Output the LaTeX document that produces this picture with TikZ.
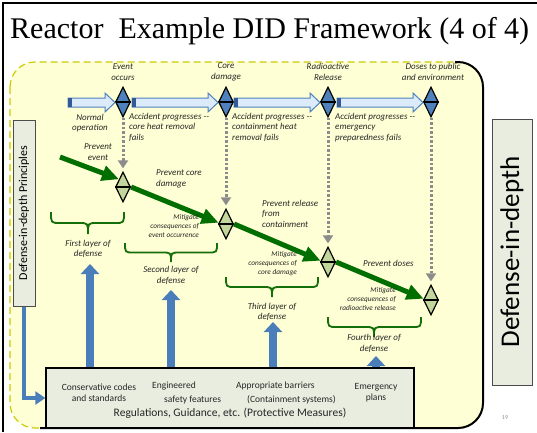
\documentclass[tikz,border=0pt]{standalone}
\usepackage{fontspec}
\newfontfamily\carl{Carlito}
\newfontfamily\titlefont{Liberation Serif}
\usetikzlibrary{arrows.meta,shapes.geometric,calc}
\definecolor{bgyellow}{RGB}{255,255,213}
\definecolor{dashyel}{RGB}{204,204,0}
\definecolor{boxgray}{RGB}{233,237,224}
\definecolor{tlfill}{RGB}{220,235,250}
\definecolor{tlblue}{RGB}{79,129,189}
\definecolor{darkbar}{RGB}{50,90,150}
\definecolor{arrblue}{RGB}{74,126,187}
\definecolor{gfill}{RGB}{195,214,155}
\definecolor{garrow}{RGB}{0,110,0}
\definecolor{brgreen}{RGB}{20,110,10}
\definecolor{dotgray}{RGB}{140,140,140}
\newcommand\tlarrow[2]{%
  \draw[tlblue, fill=tlfill, line width=1] (#1,98) -- (#2-10,98) -- (#2-10,93) -- (#2,102.5) -- (#2-10,112) -- (#2-10,107) -- (#1,107) -- cycle;
  \fill[darkbar] (#1,98) rectangle (#1+4,107);}
\newcommand\mybrace[5]{% x1 x2 xm ytop ybot
  \draw[brc] (#1,#4) .. controls (#1,{(#4+#5)/2}) .. ({#1+9},{(#4+#5)/2}) -- ({#3-9},{(#4+#5)/2}) .. controls (#3,{(#4+#5)/2}) .. (#3,#5)
     .. controls (#3,{(#4+#5)/2}) .. ({#3+9},{(#4+#5)/2}) -- ({#2-9},{(#4+#5)/2}) .. controls (#2,{(#4+#5)/2}) .. (#2,#4);}
\tikzset{
 lbl/.style={font=\carl\itshape\fontsize{9}{10.5}\selectfont, inner sep=0, text=black!85},
 mit/.style={font=\carl\itshape\fontsize{7.3}{9}\selectfont, inner sep=0, align=right, anchor=north east, text=black!85},
 tdia/.style={diamond, draw=black, line width=1.2, fill=tlblue, minimum width=15, minimum height=30, inner sep=0},
 gdia/.style={diamond, draw=black, line width=1.2, fill=gfill, minimum width=15, minimum height=30, inner sep=0},
 dotl/.style={dotgray, line width=3, dash pattern=on 2.5 off 2, -{Triangle[width=10,length=8]}, shorten >=3},
 garr/.style={garrow, line width=5, -{Triangle[width=15,length=17]}},
 uparr/.style={arrblue, line width=8, -{Triangle[width=18,length=10]}},
 brc/.style={brgreen, line width=1.8},
 boxtxt/.style={font=\carl\fontsize{9.5}{11}\selectfont, inner sep=0, text=black!85},
}
\begin{document}
\begin{tikzpicture}[x=1pt,y=-1pt]
\useasboundingbox (0,0) rectangle (537,432);
\fill[white] (0,0) rectangle (537,432);
% slide frame
\draw[line width=2] (3,432) -- (3,3) -- (537,3);
% title
\node[anchor=base west, inner sep=0, font=\titlefont\fontsize{30}{30}\selectfont] (title) at (10,38) {Reactor\ \ Example DID Framework (4 of 4)};
% yellow panel
\fill[bgyellow, rounded corners=25] (10,62) rectangle (483,428);
\draw[dashyel, line width=1.2, dash pattern=on 7 off 4, rounded corners=25] (10,62) rectangle (483,428);
\draw[black, line width=2, rounded corners=25] (455,62) -- (483,62) -- (483,428) -- (40,428);
% right box
\node[draw=black!70, fill=boxgray, line width=1, rotate=90, minimum width=266, minimum height=40, inner sep=0, font=\carl\fontsize{27}{27}\selectfont] (did) at (512,252) {Defense-in-depth};
% left box
\node[draw=black!70, fill=boxgray, line width=1, rotate=90, minimum width=186, minimum height=22, inner sep=0, font=\carl\fontsize{12}{12}\selectfont] (dip) at (24,213) {Defense-in-depth Principles};
% bottom box
\node[draw=black, fill=boxgray, line width=1.3, minimum width=368, minimum height=60, inner sep=0] (regs) at (230,398) {};
\node[boxtxt, align=center] (c1) at (99,393) {Conservative codes\\and standards};
\node[boxtxt, anchor=west] (e1) at (152,386) {Engineered};
\node[boxtxt, anchor=west] (e2) at (164,400) {safety features};
\node[boxtxt, anchor=west] (a1) at (236,386) {Appropriate barriers};
\node[boxtxt, anchor=west] (a2) at (247,400) {(Containment systems)};
\node[boxtxt, align=center] (p1) at (376,393) {Emergency\\plans};
\node[boxtxt, font=\carl\fontsize{11.5}{12}\selectfont] (rg) at (230,413) {Regulations, Guidance, etc. (Protective Measures)};
% left connector
\draw[arrblue, line width=4, -{Triangle[width=13,length=10]}] (dip.west) |- (regs.west);
% up arrows
\coordinate (t1) at (90,264);
\coordinate (t2) at (171,290);
\coordinate (t3) at (273,322);
\coordinate (t4) at (376,356);
\foreach \t in {t1,t2,t3,t4} \draw[uparr] (\t |- regs.north) -- (\t);
% timeline
\foreach \i/\x in {1/123,2/226,3/328,4/431} {
  \node[tdia] (td\i) at (\x,102) {};
  \draw[line width=1.2] (td\i.west) -- (td\i.east);
}
\tlarrow{68}{115}
\tlarrow{132}{218}
\tlarrow{234}{320}
\tlarrow{337}{423}
\node[lbl, align=center] (l1) at (123,72) {Event\\occurs};
\node[lbl, align=center] (l2) at (226,72) {Core\\damage};
\node[lbl, align=center] (l3) at (328,72) {Radioactive\\Release};
\node[lbl, align=center] (l4) at (433,72) {Doses to public\\and environment};
\node[lbl, align=center] (n1) at (90,123) {Normal\\operation};
\node[lbl, align=left, anchor=north west] (ap1) at (129,113) {Accident progresses --\\core heat removal\\fails};
\node[lbl, align=left, anchor=north west] (ap2) at (232,113) {Accident progresses --\\containment heat\\removal fails};
\node[lbl, align=left, anchor=north west] (ap3) at (335,113) {Accident progresses --\\emergency\\preparedness fails};
% green diamonds
\foreach \i/\x/\y in {1/123/187,2/226/224,3/328/262,4/431/300} {
  \node[gdia] (gd\i) at (\x,\y) {};
  \draw[line width=1.2] (gd\i.west) -- (gd\i.east);
}
\foreach \i in {1,...,4} \draw[dotl] (td\i.south) -- (gd\i.north);
% green arrows
\coordinate (g0) at (60,157);
\draw[garr] (g0) -- (gd1.north west);
\draw[garr] (gd1.east) -- (gd2.170);
\draw[garr] (gd2.east) -- (gd3.170);
\draw[garr] (gd3.east) -- (gd4.170);
\node[lbl, align=center] (pv1) at (98,152) {Prevent\\event};
\node[lbl, align=left, anchor=north west] (pv2) at (156,170) {Prevent core\\damage};
\node[lbl, align=left, anchor=north west] (pv3) at (262,200) {Prevent release\\from\\containment};
\node[lbl, anchor=west] (pv4) at (363,263) {Prevent doses};
% mitigate labels
\node[mit] (m1) at (199,214) {Mitigate\\consequences of\\event occurrence};
\node[mit] (m2) at (297,251) {Mitigate\\consequences of\\core damage};
\node[mit] (m3) at (396,287) {Mitigate\\consequences of\\radioactive release};
% braces
\mybrace{51}{124}{88}{212}{234}
\mybrace{125}{217}{171}{243}{262}
\mybrace{226}{318}{272}{277}{297}
\mybrace{328}{421}{374}{317}{337}
\node[lbl, align=center] (f1) at (88,249) {First layer of\\defense};
\node[lbl, align=center] (f2) at (171,275.5) {Second layer of\\defense};
\node[lbl, align=center] (f3) at (272,312) {Third layer of\\defense};
\node[lbl, align=center] (f4) at (374,343.5) {Fourth layer of\\defense};
% page number
\node[font=\carl\fontsize{6}{6}\selectfont, text=black!45, inner sep=0] (pg) at (505,418) {19};
\end{tikzpicture}
\end{document}
